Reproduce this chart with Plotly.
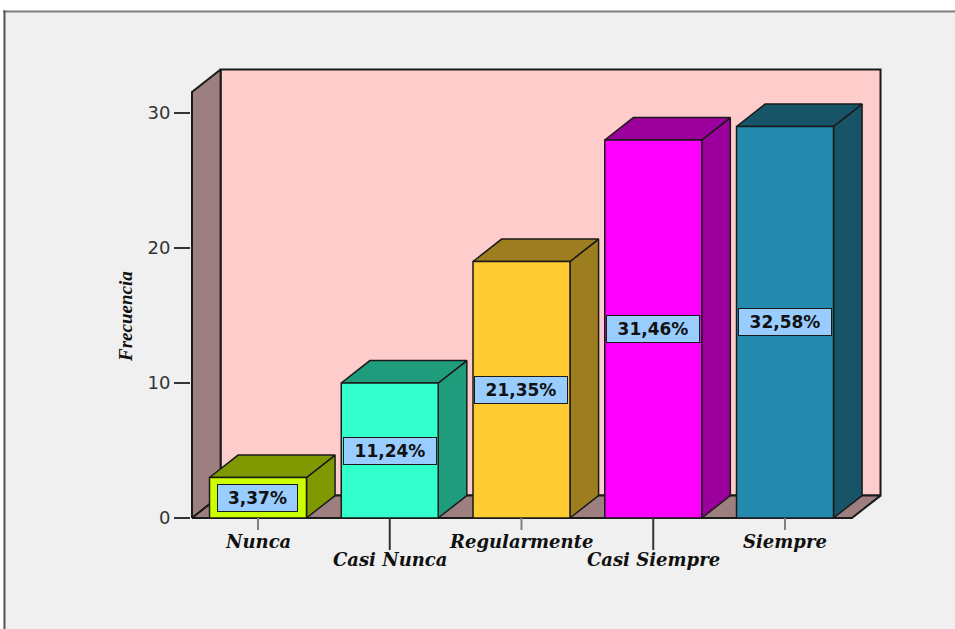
import plotly.graph_objects as go

# ---------------- data ----------------
categories = ["Nunca", "Casi Nunca", "Regularmente", "Casi Siempre", "Siempre"]
frequencies = [3, 10, 19, 28, 29]
percent_labels = ["3,37%", "11,24%", "21,35%", "31,46%", "32,58%"]
y_ticks = [0, 10, 20, 30]

# ---------------- styles ----------------
front_colors = ["#ccff00", "#33ffcc", "#ffcc33", "#ff00ff", "#248aad"]
shade_colors = ["#809900", "#1f9c7c", "#9c7d20", "#9c009c", "#175468"]
WALL_BACK = "#ffcccc"
WALL_SIDE = "#9e7f7f"
EDGE = "#1a1a1a"

# geometry in data units
HALF = 0.368      # half width of a bar
DX = 0.217        # depth offset along x
DY = 1.66         # depth offset along y
WALL_L = -0.501
WALL_R = 4.508
WALL_TOP = 31.56

# plot window (pixels of the 955x629 canvas)
ML, MR, MT, MB = 191, 65, 60, 29
PW = 955 - ML - MR
PH = 629 - MT - MB
X_RANGE = [-0.5085, -0.5085 + PW / 131.75]
Y_RANGE = [-(PH - (518 - MT)) / 13.5, (518 - MT) / 13.5]


def px_x(p):
    return (p - ML) / PW


def px_y(p):
    return (629 - MB - p) / PH


fig = go.Figure()


def poly(pts, fill, width=1.5):
    xs = [p[0] for p in pts] + [pts[0][0]]
    ys = [p[1] for p in pts] + [pts[0][1]]
    fig.add_trace(go.Scatter(
        x=xs, y=ys, mode="lines", fill="toself", fillcolor=fill,
        line=dict(color=EDGE, width=width), hoverinfo="skip", showlegend=False))


# walls and floor
poly([(WALL_L + DX, DY), (WALL_R + DX, DY), (WALL_R + DX, WALL_TOP + DY),
      (WALL_L + DX, WALL_TOP + DY)], WALL_BACK, 2)
poly([(WALL_L, 0), (WALL_L + DX, DY), (WALL_L + DX, WALL_TOP + DY),
      (WALL_L, WALL_TOP)], WALL_SIDE, 2)
poly([(WALL_L, 0), (WALL_R, 0), (WALL_R + DX, DY), (WALL_L + DX, DY)], WALL_SIDE, 2)

# bars
for i, v in enumerate(frequencies):
    c = i
    poly([(c + HALF, 0), (c + HALF + DX, DY), (c + HALF + DX, v + DY), (c + HALF, v)],
         shade_colors[i])
    poly([(c - HALF, v), (c + HALF, v), (c + HALF + DX, v + DY), (c - HALF + DX, v + DY)],
         shade_colors[i])
    poly([(c - HALF, 0), (c + HALF, 0), (c + HALF, v), (c - HALF, v)], front_colors[i])

# category ticks (alternating length)
short_x, short_y, long_x, long_y = [], [], [], []
for i, _ in enumerate(categories):
    if i % 2 == 0:
        short_x += [i, i, None]
        short_y += [0, -12 / 13.5, None]
    else:
        long_x += [i, i, None]
        long_y += [0, -32 / 13.5, None]
fig.add_trace(go.Scatter(x=short_x, y=short_y, mode="lines",
                         line=dict(color="#808080", width=2), hoverinfo="skip", showlegend=False))
fig.add_trace(go.Scatter(x=long_x, y=long_y, mode="lines",
                         line=dict(color="#333333", width=2), hoverinfo="skip", showlegend=False))

annotations = []
# percentage labels
for i, (v, t) in enumerate(zip(frequencies, percent_labels)):
    annotations.append(dict(
        x=i, y=v / 2, xref="x", yref="y", text=t, showarrow=False,
        font=dict(family="DejaVu Sans", size=17, color="#111111", weight="bold"),
        bgcolor="#99ccff", bordercolor=EDGE, borderwidth=1, borderpad=0,
        width=13 * len(t) + 14, height=26, align="center", valign="middle"))

# category labels
for i, cat in enumerate(categories):
    annotations.append(dict(
        x=i, y=0, xref="x", yref="y", text=cat, showarrow=False,
        yanchor="middle", yshift=-23 if i % 2 == 0 else -41,
        font=dict(family="DejaVu Serif", size=18, color="#111111",
                  weight="bold", style="italic")))

# y-axis title
annotations.append(dict(
    x=px_x(125), y=px_y(317), xref="paper", yref="paper", text="Frecuencia",
    showarrow=False, textangle=-90, xanchor="center", yanchor="middle",
    font=dict(family="Liberation Serif", size=19, color="#111111",
              weight="bold", style="italic")))

shapes = [
    dict(type="rect", xref="paper", yref="paper", x0=px_x(0), x1=px_x(955),
         y0=px_y(0), y1=px_y(10), fillcolor="white", line=dict(width=0), layer="below"),
    dict(type="rect", xref="paper", yref="paper", x0=px_x(0), x1=px_x(3),
         y0=px_y(0), y1=px_y(629), fillcolor="white", line=dict(width=0), layer="below"),
    dict(type="line", xref="paper", yref="paper", x0=px_x(3), x1=px_x(955),
         y0=px_y(11.5), y1=px_y(11.5), line=dict(color="#808080", width=2)),
    dict(type="line", xref="paper", yref="paper", x0=px_x(4.5), x1=px_x(4.5),
         y0=px_y(10.5), y1=px_y(629), line=dict(color="#555555", width=2)),
]

fig.update_layout(
    width=955, height=629,
    margin=dict(l=ML, r=MR, t=MT, b=MB, pad=0),
    paper_bgcolor="#f0f0f0", plot_bgcolor="rgba(0,0,0,0)",
    showlegend=False, annotations=annotations, shapes=shapes,
    xaxis=dict(range=X_RANGE, showgrid=False, zeroline=False, showline=False,
               showticklabels=False, ticks="", fixedrange=True),
    yaxis=dict(range=Y_RANGE, tickvals=y_ticks, ticks="outside", ticklen=16,
               tickwidth=2, tickcolor="#333333", showgrid=False, zeroline=False,
               showline=False, fixedrange=True,
               tickfont=dict(family="DejaVu Sans", size=18, color="#333333")),
)

fig.write_html("out.html")
